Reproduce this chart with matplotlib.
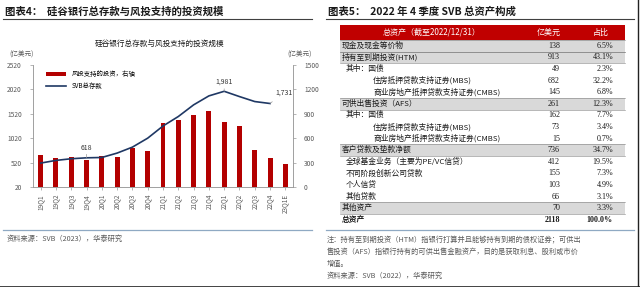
import matplotlib
matplotlib.use("Agg")
import matplotlib.pyplot as plt
from matplotlib.patches import Rectangle

plt.rcParams['font.family'] = ['Noto Sans CJK SC', 'DejaVu Sans']

# ---- 左图数据 ----
quarters = ['19Q1', '19Q2', '19Q3', '19Q4', '20Q1', '20Q2', '20Q3', '20Q4',
            '21Q1', '21Q2', '21Q3', '21Q4', '22Q1', '22Q2', '22Q3', '22Q4', '23Q1E']
vc_invest = [396, 356, 368, 327, 376, 368, 478, 445,
             785, 826, 887, 936, 797, 748, 458, 352, 286]
deposits = [510, 565, 599, 618, 625, 715, 837, 1021,
            1270, 1464, 1703, 1887, 1981, 1873, 1771, 1731]
left_ticks = [20, 520, 1020, 1520, 2020, 2520]
right_ticks = [0, 300, 600, 900, 1200, 1500]

# ---- 右表数据 ----
items = ['现金及现金等价物', '持有至到期投资(HTM)', '其中：国债', '住房抵押贷款支持证券(MBS)',
         '商业房地产抵押贷款支持证券(CMBS)', '可供出售投资（AFS）', '其中：国债',
         '住房抵押贷款支持证券(MBS)', '商业房地产抵押贷款支持证券(CMBS)', '客户贷款及垫款净额',
         '全球基金业务（主要为PE/VC信贷）', '不同阶段创新公司贷款', '个人信贷', '其他贷款',
         '其他资产', '总资产']
amounts = ['138', '913', '49', '682', '145', '261', '162', '73', '15', '736',
           '412', '155', '103', '66', '70', '2118']
shares = ['6.5%', '43.1%', '2.3%', '32.2%', '6.8%', '12.3%', '7.7%', '3.4%', '0.7%',
          '34.7%', '19.5%', '7.3%', '4.9%', '3.1%', '3.3%', '100.0%']
levels = [0, 0, 1, 2, 2, 0, 1, 2, 2, 0, 1, 1, 1, 1, 0, 3]

W, H = 640, 287
fig = plt.figure(figsize=(W / 100, H / 100), dpi=100)
fig.patch.set_facecolor('white')

# 全图像素坐标的底层轴，用于文字和装饰
bg = fig.add_axes([0, 0, 1, 1])
bg.set_xlim(0, W)
bg.set_ylim(H, 0)
bg.axis('off')

dark = '#1a1a1a'
grey_txt = '#595959'
sep_blue = '#8fa9c3'

# 标题
bg.text(5, 12, '图表4：  硅谷银行总存款与风投支持的投资规模', fontsize=7.5,
        fontweight='bold', color=dark, va='center')
bg.text(328, 12, '图表5：  2022 年 4 季度 SVB 总资产构成', fontsize=7.5,
        fontweight='bold', color=dark, va='center')
bg.plot([3, 312], [19, 19], color='#404040', lw=0.8)
bg.plot([326, 634], [19, 19], color='#404040', lw=0.8)

# 左图内标题、单位
bg.text(160, 44, '硅谷银行总存款与风投支持的投资规模', fontsize=5.5, color=dark,
        ha='center', va='center')
bg.text(22, 55, '(亿美元)', fontsize=4.8, color=grey_txt, ha='center', va='center')
bg.text(300, 55, '(亿美元)', fontsize=4.8, color=grey_txt, ha='center', va='center')

# 底部分隔线与来源
bg.plot([3, 312], [230, 230], color=sep_blue, lw=0.9)
bg.text(7, 239, '资料来源：SVB（2023），华泰研究', fontsize=5.2, color=grey_txt, va='center')

# ---- 左图 ----
ax = fig.add_axes([33 / W, 1 - 187 / H, 260 / W, 122 / H])
ax2 = ax.twinx()
x = list(range(len(quarters)))
ax2.bar(x, vc_invest, width=0.32, color='#b30000', label='风投支持的投资，右轴')
ax2.set_ylim(0, 1500)
ax2.set_yticks(right_ticks)
ax.plot(x[:len(deposits)], deposits, color='#1f3864', lw=1.2, label='SVB总存款')
ax.set_ylim(20, 2520)
ax.set_yticks(left_ticks)
ax.set_xlim(-0.5, len(quarters) - 0.5)
ax.set_zorder(ax2.get_zorder() + 1)
ax.patch.set_visible(False)
ax.set_xticks(x)
ax.set_xticklabels(quarters, rotation=90, fontsize=4.6, color=grey_txt)
for a in (ax, ax2):
    a.tick_params(axis='y', labelsize=4.8, labelcolor=grey_txt, length=2,
                  width=0.5, color='#999999', pad=6)
    for s in a.spines.values():
        s.set_color('#999999')
        s.set_linewidth(0.5)
    a.spines['top'].set_visible(False)
ax.tick_params(axis='x', length=2, width=0.5, color='#999999', pad=3)

# 数据标注
for i, txt, dx, dy in [(3, '618', 0, 120), (12, '1,981', 0, 100), (15, '1,731', 0.9, 140)]:
    ax.annotate(txt, xy=(i, deposits[i]), xytext=(i + dx, deposits[i] + dy + 90),
                fontsize=5, color='#333333', ha='center', va='center',
                arrowprops=dict(arrowstyle='-', color='#999999', lw=0.5, shrinkA=3, shrinkB=0))

h1, l1 = ax2.get_legend_handles_labels()
h2, l2 = ax.get_legend_handles_labels()
ax.legend(h1 + h2, l1 + l2, loc='upper left', bbox_to_anchor=(0.04, 0.98), frameon=False,
          fontsize=4.6, handlelength=3.2, handleheight=0.6, labelspacing=0.6,
          borderaxespad=0)

# ---- 右表 ----
tx0, tx1 = 340, 625
top, rh = 25, 15
bg.add_patch(Rectangle((tx0, top), tx1 - tx0, rh, color='#c00000', lw=0))
bg.text(432, top + rh / 2, '总资产（截至2022/12/31）', fontsize=5.8, color='white',
        ha='center', va='center')
bg.text(549, top + rh / 2, '亿美元', fontsize=5.8, color='white', ha='center', va='center')
bg.text(601, top + rh / 2, '占比', fontsize=5.8, color='white', ha='center', va='center')

row_h = 11.6
y = top + rh
indent = {0: 342, 1: 346, 2: 373, 3: 342}
for name, amt, sh, lev in zip(items, amounts, shares, levels):
    if lev == 0:
        bg.add_patch(Rectangle((tx0, y), tx1 - tx0, row_h, color='#d9d9d9', lw=0))
        bg.plot([tx0, tx1], [y, y], color='#808080', lw=0.4)
        bg.plot([tx0, tx1], [y + row_h, y + row_h], color='#808080', lw=0.4)
    wt = 'bold' if lev == 3 else 'normal'
    yc = y + row_h / 2
    bg.text(indent[lev], yc, name, fontsize=5.6, color=dark, va='center', fontweight=wt)
    bg.text(560, yc, amt, fontsize=5.8, color=dark, va='center', ha='right',
            fontweight=wt, family=['Liberation Serif', 'DejaVu Serif'])
    bg.text(613, yc, sh, fontsize=5.8, color=dark, va='center', ha='right',
            fontweight=wt, family=['Liberation Serif', 'DejaVu Serif'])
    y += row_h

bg.plot([326, 634], [230, 230], color=sep_blue, lw=0.9)
notes = ['注：持有至到期投资（HTM）指银行打算并且能够持有到期的债权证券；可供出',
         '售投资（AFS）指银行持有的可供出售金融资产，目的是获取利息、股利或市价',
         '增值。',
         '资料来源：SVB（2022），华泰研究']
for k, line in enumerate(notes):
    bg.text(327, 240 + k * 11.8, line, fontsize=5.2, color=grey_txt, va='center')

# 外框
bg.plot([0, W], [286.5, 286.5], color='#222222', lw=1.2)
bg.plot([637.5, 637.5], [0, H], color='#222222', lw=1.0)

fig.savefig('out.png', dpi=100)
